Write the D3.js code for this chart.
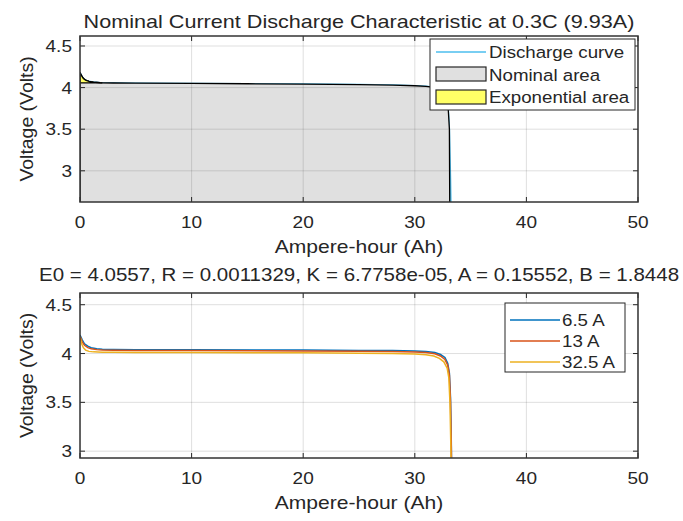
<!DOCTYPE html>
<html>
<head>
<meta charset="utf-8">
<script src="https://cdn.jsdelivr.net/npm/d3@7"></script>
<style>
    body { margin: 0; background: #fff; }
    svg text { font-family: "Liberation Sans", Arial, sans-serif; fill: #262626; }
</style>
</head>
<body>
<div id="chart"></div>
<script>
const W = 683, H = 521;

// x ticks / y ticks shared by both panels
const xTicks = [0, 10, 20, 30, 40, 50];
const yTicks = [3, 3.5, 4, 4.5];

// top panel: nominal discharge at 0.3C (9.93 A)
const nomAh = [0, 0.15, 0.3, 0.5, 0.8, 1.2, 1.8, 3, 5, 10, 15, 20, 25, 28, 30, 31, 32, 32.6, 32.95, 33.1, 33.2, 33.25];
const nomV  = [4.18, 4.14, 4.11, 4.09, 4.075, 4.066, 4.058, 4.055, 4.053, 4.05, 4.046, 4.042, 4.036, 4.03, 4.022, 4.015, 4.0, 3.97, 3.85, 3.5, 2.9, 2.5];
const qExp = 2.0, vExp = 4.056, qNom = 33.15;

// bottom panel: three discharge currents
const seriesNames = ["6.5 A", "13 A", "32.5 A"];
const ah65 = [0, 0.2, 0.4, 0.7, 1, 1.5, 2, 3, 5, 10, 20, 25, 28, 30, 31, 31.8, 32.3, 32.7, 32.95, 33.1, 33.2, 33.27, 33.33];
const v65  = [4.19, 4.14, 4.1, 4.075, 4.06, 4.05, 4.045, 4.042, 4.04, 4.038, 4.035, 4.032, 4.03, 4.025, 4.02, 4.01, 3.99, 3.96, 3.9, 3.8, 3.55, 3.1, 2.5];
const ah13 = [0, 0.2, 0.4, 0.7, 1, 1.5, 2, 3, 5, 10, 20, 25, 28, 30, 31, 31.8, 32.3, 32.7, 32.95, 33.1, 33.2, 33.27, 33.33];
const v13  = [4.18, 4.12, 4.085, 4.06, 4.048, 4.04, 4.036, 4.033, 4.031, 4.03, 4.027, 4.024, 4.021, 4.016, 4.01, 3.998, 3.975, 3.94, 3.88, 3.78, 3.5, 3.05, 2.5];
const ah32 = [0, 0.15, 0.3, 0.5, 0.8, 1.2, 2, 3, 5, 10, 20, 25, 28, 30, 31, 31.7, 32.2, 32.6, 32.9, 33.05, 33.15, 33.23, 33.3];
const v32  = [4.17, 4.1, 4.06, 4.035, 4.022, 4.017, 4.014, 4.012, 4.011, 4.01, 4.007, 4.004, 4.0, 3.995, 3.988, 3.975, 3.95, 3.915, 3.85, 3.75, 3.5, 3.05, 2.5];
const seriesAh = [ah65, ah13, ah32];
const seriesV = [v65, v13, v32];
const seriesColors = ["#0072BD", "#D95319", "#EDB120"];

const svg = d3.select("#chart").append("svg").attr("width", W).attr("height", H);

const x = d3.scaleLinear().domain([0, 50]).range([80, 638]);
const yTop = d3.scaleLinear().domain([2.625, 4.62]).range([202, 36]);
const yBot = d3.scaleLinear().domain([2.93, 4.62]).range([458, 293]);

// matlab text renders a bit wider than liberation sans, stretch it horizontally
function addText(g, px, py, str, size, sx, anchor, rot) {
    return g.append("text")
        .attr("transform", `translate(${px},${py})` + (rot ? ` rotate(${rot})` : "") + ` scale(${sx},1)`)
        .attr("text-anchor", anchor || "start")
        .style("font-size", size + "px")
        .text(str);
}

function addClip(g, y, clipId) {
    const [x0, x1] = x.range();
    const [y1, y0] = y.range();
    g.append("clipPath").attr("id", clipId)
        .append("rect").attr("x", x0).attr("y", y0).attr("width", x1 - x0).attr("height", y1 - y0);
}

function drawGrid(g, y) {
    const [x0, x1] = x.range();
    const [y1, y0] = y.range();
    const grid = g.append("g").attr("stroke", "#262626").attr("stroke-opacity", 0.15).attr("stroke-width", 1);
    xTicks.forEach(t => grid.append("line").attr("x1", x(t)).attr("x2", x(t)).attr("y1", y0).attr("y2", y1));
    yTicks.forEach(t => grid.append("line").attr("x1", x0).attr("x2", x1).attr("y1", y(t)).attr("y2", y(t)));
}

function drawTicksBox(g, y) {
    const [x0, x1] = x.range();
    const [y1, y0] = y.range();
    const tk = g.append("g").attr("stroke", "#262626").attr("stroke-width", 1);
    xTicks.forEach(t => {
        tk.append("line").attr("x1", x(t)).attr("x2", x(t)).attr("y1", y1).attr("y2", y1 - 5);
        tk.append("line").attr("x1", x(t)).attr("x2", x(t)).attr("y1", y0).attr("y2", y0 + 5);
    });
    yTicks.forEach(t => {
        tk.append("line").attr("x1", x0).attr("x2", x0 + 5).attr("y1", y(t)).attr("y2", y(t));
        tk.append("line").attr("x1", x1).attr("x2", x1 - 5).attr("y1", y(t)).attr("y2", y(t));
    });
    g.append("rect").attr("x", x0).attr("y", y0).attr("width", x1 - x0).attr("height", y1 - y0)
        .attr("fill", "none").attr("stroke", "#333").attr("stroke-width", 1.5);

    xTicks.forEach(t => addText(g, x(t), y1 + 26, t, 17, 1.12, "middle"));
    yTicks.forEach(t => addText(g, x0 - 8, y(t) + 6, t, 17, 1.12, "end"));

    addText(g, (x0 + x1) / 2, y1 + 51, "Ampere-hour (Ah)", 18, 1.17, "middle");
    addText(g, 33, (y0 + y1) / 2, "Voltage (Volts)", 18, 1.08, "middle", -90);
}

// ---- top panel ----
const gTop = svg.append("g");
addClip(gTop, yTop, "clipTop");
const plotTop = gTop.append("g").attr("clip-path", "url(#clipTop)");

const nomPts = nomAh.map((a, i) => [a, nomV[i]]);
const lineTop = d3.line().x(d => x(d[0])).y(d => yTop(d[1]));

plotTop.append("path").datum(nomPts).attr("d", lineTop)
    .attr("fill", "none").attr("stroke", "#4DBEEE").attr("stroke-width", 1.5);

const nomArea = nomPts.filter(d => d[0] <= qNom).concat([[qNom, 2.0], [0, 2.0]]);
plotTop.append("path").datum(nomArea).attr("d", d => lineTop(d) + "Z")
    .attr("fill", "#e0e0e0").attr("stroke", "#000").attr("stroke-width", 1.3);

const expArea = nomPts.filter(d => d[0] <= qExp).concat([[qExp, vExp], [0, vExp]]);
plotTop.append("path").datum(expArea).attr("d", d => lineTop(d) + "Z")
    .attr("fill", "#ffff66").attr("stroke", "#000").attr("stroke-width", 1.3);

drawGrid(plotTop, yTop);
drawTicksBox(gTop, yTop);

addText(svg, 359, 28, "Nominal Current Discharge Characteristic at 0.3C (9.93A)", 18, 1.2, "middle");

// top legend
const lgT = svg.append("g");
lgT.append("rect").attr("x", 430).attr("y", 39).attr("width", 205).attr("height", 71)
    .attr("fill", "#fff").attr("stroke", "#262626").attr("stroke-width", 1);
lgT.append("line").attr("x1", 436).attr("x2", 486).attr("y1", 52).attr("y2", 52)
    .attr("stroke", "#4DBEEE").attr("stroke-width", 1.5);
lgT.append("rect").attr("x", 436).attr("y", 67).attr("width", 50).attr("height", 14)
    .attr("fill", "#e0e0e0").attr("stroke", "#262626").attr("stroke-width", 1.2);
lgT.append("rect").attr("x", 436).attr("y", 90).attr("width", 50).attr("height", 14)
    .attr("fill", "#ffff66").attr("stroke", "#262626").attr("stroke-width", 1.2);
["Discharge curve", "Nominal area", "Exponential area"].forEach((t, i) => {
    addText(lgT, 489, 58 + i * 22.5, t, 17, 1.1);
});

// ---- bottom panel ----
const gBot = svg.append("g");
addClip(gBot, yBot, "clipBot");
const plotBot = gBot.append("g").attr("clip-path", "url(#clipBot)");
drawGrid(plotBot, yBot);
const lineBot = d3.line().x(d => x(d[0])).y(d => yBot(d[1]));
seriesAh.forEach((ah, k) => {
    const pts = ah.map((a, i) => [a, seriesV[k][i]]);
    plotBot.append("path").datum(pts).attr("d", lineBot)
        .attr("fill", "none").attr("stroke", seriesColors[k]).attr("stroke-width", 1.5);
});
drawTicksBox(gBot, yBot);

addText(svg, 359, 281, "E0 = 4.0557, R = 0.0011329, K = 6.7758e-05, A = 0.15552, B = 1.8448", 18, 1.14, "middle");

// bottom legend
const lgB = svg.append("g");
lgB.append("rect").attr("x", 505).attr("y", 303).attr("width", 120).attr("height", 69)
    .attr("fill", "#fff").attr("stroke", "#262626").attr("stroke-width", 1);
seriesNames.forEach((t, i) => {
    const yy = 320 + i * 21;
    lgB.append("line").attr("x1", 510).attr("x2", 560).attr("y1", yy).attr("y2", yy)
        .attr("stroke", seriesColors[i]).attr("stroke-width", 1.5);
    addText(lgB, 562, yy + 6, t, 17, 1.1);
});
</script>
</body>
</html>
